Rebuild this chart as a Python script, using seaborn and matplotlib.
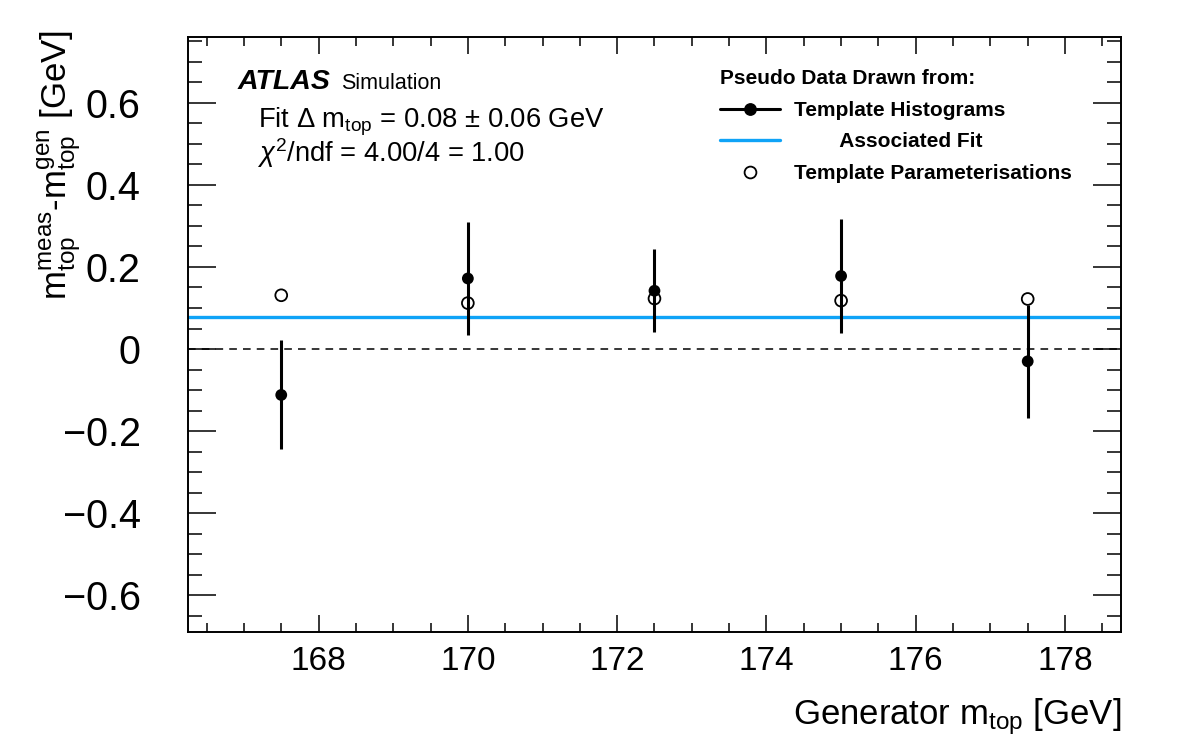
import numpy as np
import pandas as pd
import matplotlib
matplotlib.use("Agg")
import matplotlib.pyplot as plt
from matplotlib.lines import Line2D
from matplotlib.ticker import MultipleLocator, FixedLocator, FixedFormatter
import seaborn as sns

# ---- data ----
generator_mass = [167.5, 170.0, 172.5, 175.0, 177.5]
hist_delta = [-0.112, 0.172, 0.142, 0.178, -0.030]
hist_error = [0.133, 0.138, 0.101, 0.139, 0.137]
param_delta = [0.131, 0.112, 0.123, 0.118, 0.122]
fit_value = 0.079

x_tick_values = [168, 170, 172, 174, 176, 178]
x_tick_labels = ["168", "170", "172", "174", "176", "178"]
y_tick_values = [-0.6, -0.4, -0.2, 0.0, 0.2, 0.4, 0.6]
y_tick_labels = ["\u22120.6", "\u22120.4", "\u22120.2", "0", "0.2", "0.4", "0.6"]

legend_title = "Pseudo Data Drawn from:"
legend_labels = ["Template Histograms", "        Associated Fit", "Template Parameterisations"]

# ---- style ----
sns.set_theme(style="ticks")
plt.rcParams["font.family"] = ["Liberation Sans", "DejaVu Sans"]
plt.rcParams["mathtext.fontset"] = "custom"
plt.rcParams["mathtext.rm"] = "Liberation Sans"
plt.rcParams["mathtext.it"] = "Liberation Sans:italic"
plt.rcParams["mathtext.bf"] = "Liberation Sans:bold"
plt.rcParams["mathtext.sf"] = "Liberation Sans"
plt.rcParams["axes.unicode_minus"] = True
for key in ["text.color", "axes.labelcolor", "xtick.color", "ytick.color", "axes.edgecolor"]:
    plt.rcParams[key] = "black"

fit_color = "#0FA3F7"

df = pd.DataFrame({
    "mass": generator_mass,
    "hist": hist_delta,
    "err": hist_error,
    "param": param_delta,
})

fig = plt.figure(figsize=(11.82, 7.55), dpi=100)
ax = fig.add_axes([0.159, 0.1629, 0.9484 - 0.159, 0.9506 - 0.1629])
ax.set_facecolor("white")

ax.axhline(0, color="black", lw=1.1, ls=(0, (5, 4)), zorder=1)
ax.axhline(fit_value, color=fit_color, lw=2.4, zorder=2)
ax.errorbar(df["mass"], df["hist"], yerr=df["err"], fmt="none",
            ecolor="black", elinewidth=2.2, capsize=0, zorder=3)
sns.scatterplot(data=df, x="mass", y="hist", ax=ax, color="black",
                s=72, edgecolor="none", zorder=4, legend=False)
sns.scatterplot(data=df, x="mass", y="param", ax=ax, facecolor="none",
                edgecolor="black", linewidth=1.3, s=72, zorder=5, legend=False)

ax.set_xlim(166.25, 178.75)
ax.set_ylim(-0.69, 0.76)

ax.xaxis.set_major_locator(FixedLocator(x_tick_values))
ax.xaxis.set_major_formatter(FixedFormatter(x_tick_labels))
ax.xaxis.set_minor_locator(MultipleLocator(0.5))
ax.yaxis.set_major_locator(FixedLocator(y_tick_values))
ax.yaxis.set_major_formatter(FixedFormatter(y_tick_labels))
ax.yaxis.set_minor_locator(MultipleLocator(0.05))

ax.tick_params(which="both", direction="in", top=True, right=True,
               width=1.1, colors="black")
ax.tick_params(axis="x", which="major", length=12, pad=10, labelsize=24)
ax.tick_params(axis="x", which="minor", length=6.3)
ax.tick_params(axis="y", which="major", length=20, pad=34, labelsize=28.5)
ax.tick_params(axis="y", which="minor", length=10)
for s in ax.spines.values():
    s.set_linewidth(1.4)
    s.set_color("black")

ax.set_xlabel(r"Generator m$_{\mathrm{top}}$ [GeV]", fontsize=25, loc="right")
ax.set_ylabel(r"m$^{\mathrm{meas}}_{\mathrm{top}}$-m$^{\mathrm{gen}}_{\mathrm{top}}$ [GeV]",
              fontsize=25, loc="top")
ax.xaxis.set_label_coords(1.0, -0.108)
ax.yaxis.set_label_coords(-0.112, 1.013)

ax.text(0.0528, 0.9126, "ATLAS", transform=ax.transAxes, fontsize=20.5,
        fontweight="bold", fontstyle="italic", va="baseline", ha="left")
ax.text(0.1637, 0.9126, "Simulation", transform=ax.transAxes, fontsize=15.5,
        va="baseline", ha="left")
ax.text(0.0753, 0.8479, r"Fit $\Delta$ m$_{\mathrm{top}}$ = 0.08 $\pm$ 0.06 GeV",
        transform=ax.transAxes, fontsize=19.7, va="baseline", ha="left")
ax.text(0.0743, 0.7898, r"$\chi^{2}$/ndf = 4.00/4 = 1.00",
        transform=ax.transAxes, fontsize=19.7, va="baseline", ha="left")

handles = [
    Line2D([], [], color="black", lw=2.2, marker="o", ms=8.2, mfc="black", mec="black"),
    Line2D([], [], color=fit_color, lw=2.4),
    Line2D([], [], ls="none", marker="o", ms=8.5, mfc="none", mec="black", mew=1.3),
]
leg = ax.legend(handles, legend_labels, title=legend_title, loc="upper left",
                bbox_to_anchor=(0.5700, 0.946), frameon=False,
                prop={"weight": "bold", "size": 15},
                title_fontproperties={"weight": "bold", "size": 15},
                handlelength=2.9, handletextpad=0.67, labelspacing=0.6,
                borderpad=0, borderaxespad=0, alignment="left")

fig.savefig("out.png", dpi=100)
